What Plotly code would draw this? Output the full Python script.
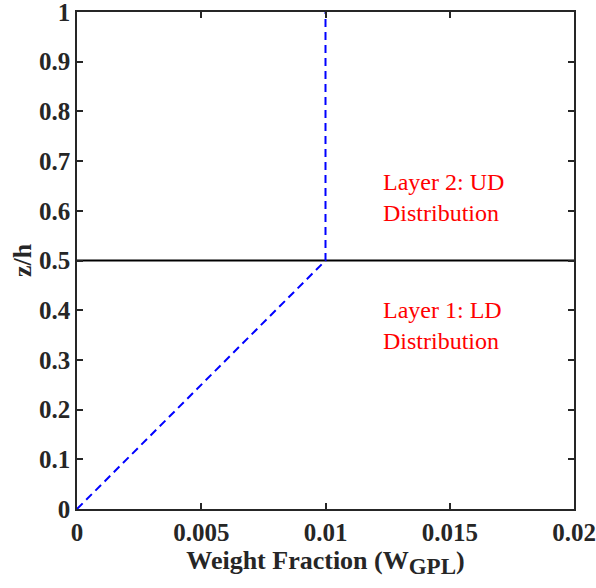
import plotly.graph_objects as go

# Data
profile_x = [0, 0.01, 0.01]
profile_y = [0, 0.5, 1.0]
interface_x = [0, 0.02]
interface_y = [0.5, 0.5]
x_ticks = [0, 0.005, 0.01, 0.015, 0.02]
x_ticklabels = ["0", "0.005", "0.01", "0.015", "0.02"]
y_ticks = [0, 0.1, 0.2, 0.3, 0.4, 0.5, 0.6, 0.7, 0.8, 0.9, 1.0]
y_ticklabels = ["0", "0.1", "0.2", "0.3", "0.4", "0.5", "0.6", "0.7", "0.8", "0.9", "1"]
labels = ["Layer 2: UD<br>Distribution", "Layer 1: LD<br>Distribution"]
label_x = [0.01225, 0.01225]
label_y = [0.627, 0.369]

SERIF = "Liberation Serif"

fig = go.Figure()
fig.add_trace(go.Scatter(x=interface_x, y=interface_y, mode="lines",
                         line=dict(color="black", width=2), showlegend=False))
fig.add_trace(go.Scatter(x=profile_x, y=profile_y, mode="lines",
                         line=dict(color="#0000ff", width=2, dash="8px,5px"), showlegend=False))

for t, lx, ly in zip(labels, label_x, label_y):
    fig.add_annotation(x=lx, y=ly, text=t, showarrow=False, xanchor="left", yanchor="middle",
                       align="left",
                       font=dict(family=SERIF, size=24, color="#ff0000"))

axis_common = dict(showgrid=False, zeroline=False, showline=True, linecolor="#262626", linewidth=1.5,
                   mirror="allticks", ticks="inside", ticklen=6, tickwidth=1.5, tickcolor="#262626",
                   automargin=False, ticklabeloverflow="allow",
                   tickfont=dict(family=SERIF, size=25, color="#262626"))

fig.update_xaxes(range=[0, 0.02], tickvals=x_ticks, ticktext=["<b>%s</b>" % s for s in x_ticklabels],
                 title=dict(text="<b>Weight Fraction (W<sub><span style=\"font-size:23px\">GPL</span></sub>)</b>",
                            font=dict(family=SERIF, size=26, color="#262626"), standoff=0),
                 **axis_common)
fig.update_yaxes(range=[0, 1], tickvals=y_ticks, ticktext=["<b>%s</b>" % s for s in y_ticklabels],
                 title=dict(text="<b>z/h</b>",
                            font=dict(family=SERIF, size=26, color="#262626"), standoff=0),
                 **axis_common)

fig.update_layout(template="none", width=596, height=588, margin=dict(l=77, r=22, t=12, b=79),
                  font=dict(family=SERIF),
                  plot_bgcolor="white", paper_bgcolor="white")
fig.write_html("out.html")
